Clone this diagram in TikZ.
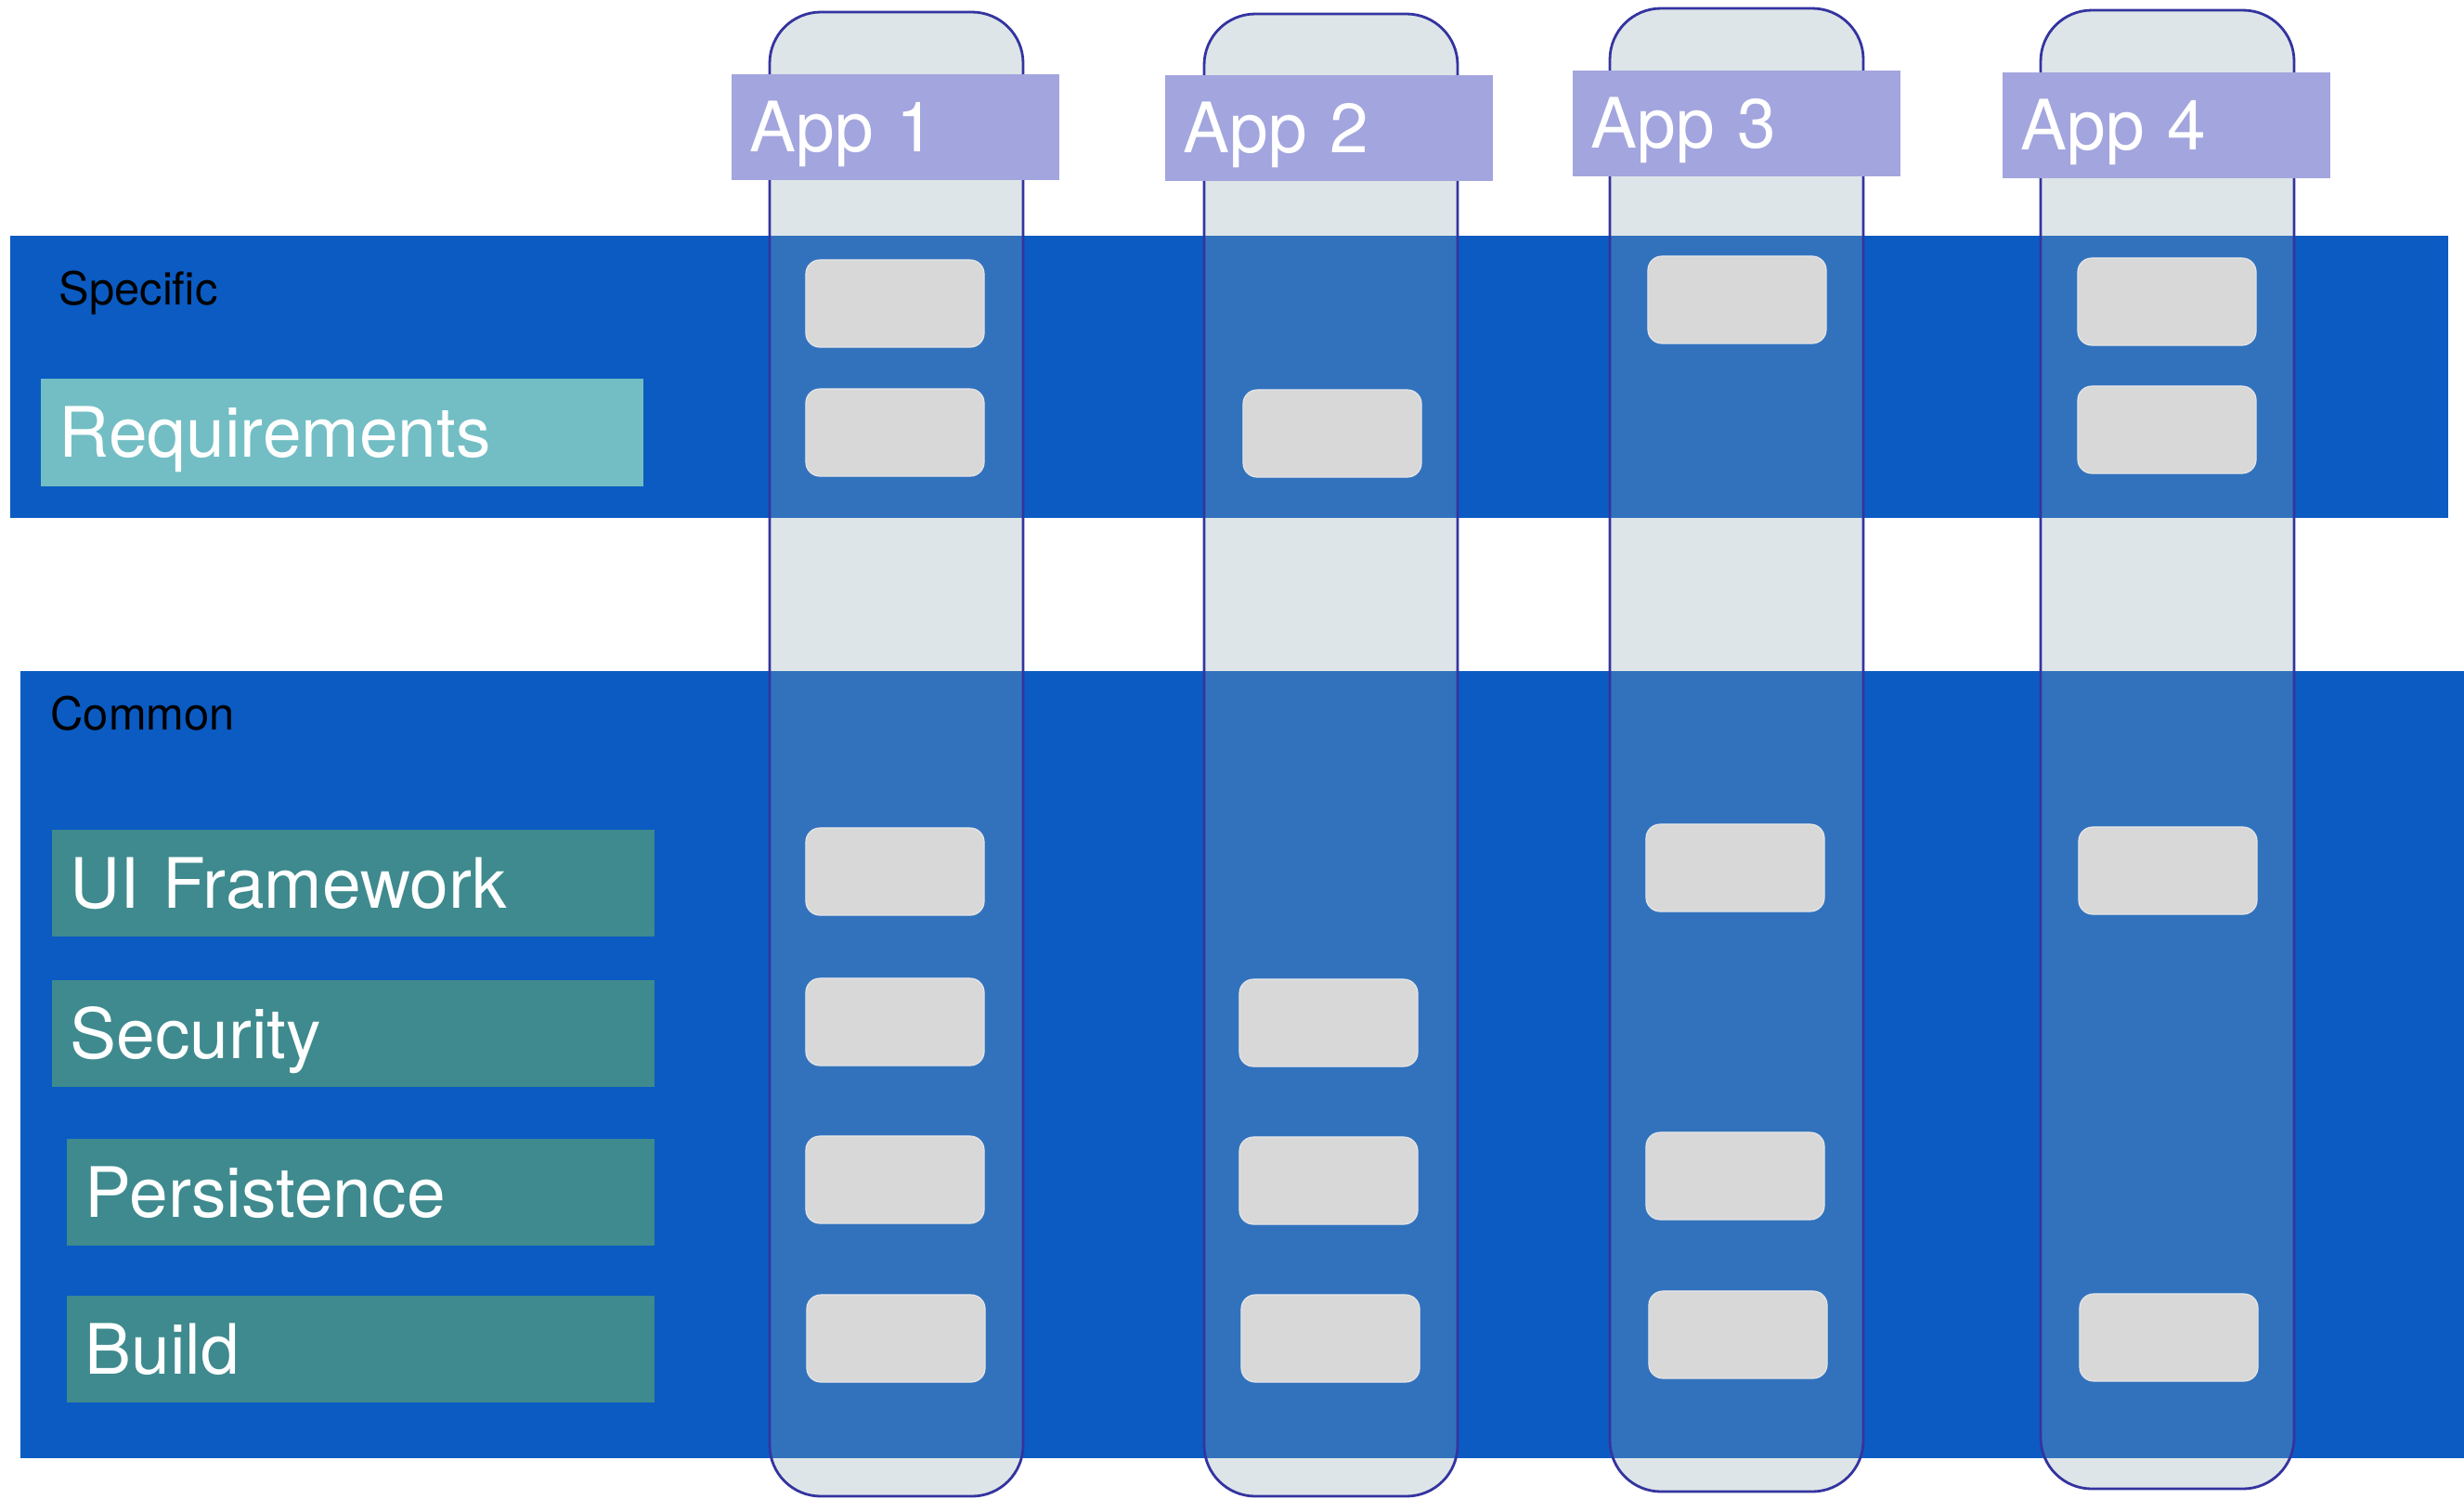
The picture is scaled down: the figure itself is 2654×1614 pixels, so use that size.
\documentclass[tikz,border=0pt]{standalone}
\usepackage{fontspec}
\setmainfont{TeX Gyre Heros}
\definecolor{bandblue}{RGB}{11,91,194}
\definecolor{colfill}{RGB}{142,168,178}
\definecolor{colborder}{RGB}{52,52,160}
\definecolor{applilac}{RGB}{163,165,222}
\definecolor{reqteal}{RGB}{114,190,196}
\definecolor{rowteal}{RGB}{62,138,142}
\definecolor{cellgray}{RGB}{216,216,216}
\begin{document}
\begin{tikzpicture}[x=0.01cm, y=-0.01cm,
        band/.style={fill=bandblue},
        column/.style={draw=colborder, line width=0.8pt, fill=colfill, fill opacity=0.3, rounded corners=0.55cm},
        tag/.style={anchor=north west, text=white, inner xsep=0.2cm, inner ysep=0pt, align=left,
            font=\fontsize{21.3pt}{24pt}\selectfont, text height=0.54cm, text depth=0pt},
        applabel/.style={tag, fill=applilac, text width=3.13cm, minimum height=1.14cm},
        rowlabel/.style={tag, fill=rowteal, minimum height=1.15cm},
        group/.style={anchor=base west, inner sep=0pt, font=\fontsize{13.9pt}{16pt}\selectfont},
        cell/.style={fill=cellgray, draw=cellgray!60!white, line width=0.3pt, rounded corners=0.15cm, minimum width=1.92cm, minimum height=0.94cm}
    ]
    \useasboundingbox (0,0) rectangle (2654,1614);
    % bands
    \fill[band] (11,254) rectangle (2637,558);
    \fill[band] (22,723) rectangle (2654,1571);
    % columns
    \foreach \x/\top/\bot in {829/13/1612, 1297/15/1612, 1734/9/1607, 2198/11/1604}
        \draw[column] (\x,\top) rectangle (\x+273,\bot);
    \foreach \i/\x/\y in {1/787/79, 2/1254/80, 3/1693/75, 4/2156/77}
        \node[applabel] (app\i) at (\x,\y) {App \i};
    % rows
    \node[group] (specific) at (63,328) {Specific};
    \node[group] (common) at (54,786) {Common};
    \node[tag, fill=reqteal, text width=6.09cm, minimum height=1.16cm] (req) at (43,407) {Requirements};
    \node[rowlabel, text width=6.09cm] (ui) at (55,893) {UI Framework};
    \node[rowlabel, text width=6.09cm] (security) at (55,1055) {Security};
    \node[rowlabel, text width=5.93cm] (persistence) at (71,1226) {Persistence};
    \node[rowlabel, text width=5.93cm] (build) at (71,1395) {Build};
    % cells
    \foreach \n/\x/\y in {a1s1/964/327, a1s2/964/466, a1ui/964/939, a1sec/964/1101, a1per/964/1271, a1bld/965/1442,
            a2s2/1435/467, a2sec/1431/1102, a2per/1431/1272, a2bld/1433/1442,
            a3s1/1871/323, a3ui/1869/935, a3per/1869/1267, a3bld/1872/1438,
            a4s1/2334/325, a4s2/2334/463, a4ui/2335/938, a4bld/2336/1441}
        \node[cell] (\n) at (\x,\y) {};
\end{tikzpicture}
\end{document}
